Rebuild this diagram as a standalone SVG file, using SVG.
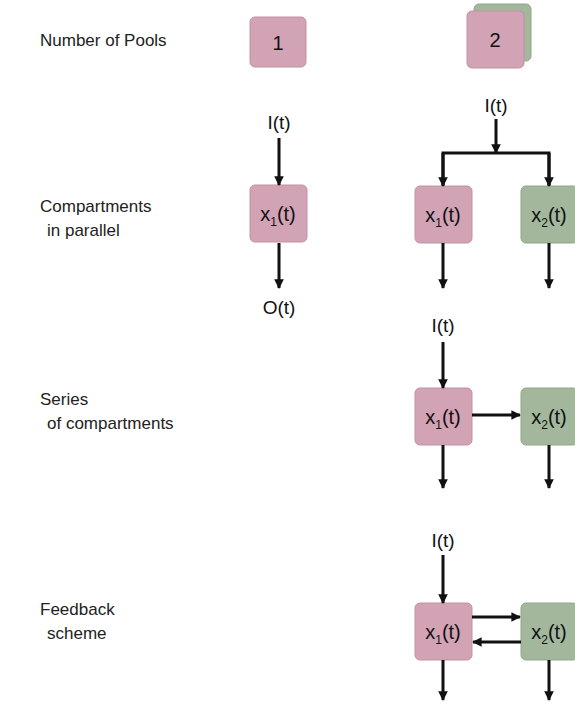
<svg xmlns="http://www.w3.org/2000/svg" width="575" height="705" viewBox="0 0 575 705">
<defs>
<marker id="ah" viewBox="0 0 10 10" refX="9" refY="5" markerWidth="3.2" markerHeight="3.2" orient="auto" markerUnits="strokeWidth">
<path d="M0,0 L10,5 L0,10 z" fill="#111"/>
</marker>
</defs>
<style>
.lbl{font-family:"Liberation Sans",Arial,sans-serif;font-size:17px;fill:#222}
.t{font-family:"Liberation Sans",Arial,sans-serif;font-size:19px;fill:#111;text-anchor:middle}
.bt{font-family:"Liberation Sans",Arial,sans-serif;font-size:20px;fill:#111;text-anchor:middle}
.sub{font-size:12px}
.pink{fill:#D2A2B5;stroke:#C391A6;stroke-width:1}
.green{fill:#A2B79B;stroke:#91A78A;stroke-width:1}
.ln{stroke:#111;stroke-width:3;fill:none}
.ar{stroke:#111;stroke-width:3;fill:none;marker-end:url(#ah)}
</style>
<rect width="575" height="705" fill="#fff"/>
<g id="labels">
<text class="lbl" x="40" y="46">Number of Pools</text>
<text class="lbl" x="40" y="212">Compartments</text>
<text class="lbl" x="47" y="236">in parallel</text>
<text class="lbl" x="40" y="405">Series</text>
<text class="lbl" x="47" y="429">of compartments</text>
<text class="lbl" x="40" y="615">Feedback</text>
<text class="lbl" x="47" y="639">scheme</text>
</g>
<g id="pool1">
<rect class="pink" x="250" y="17" width="56" height="50" rx="5"/>
<text class="bt" x="278" y="50">1</text>
</g>
<g id="pool2">
<rect class="green" x="474" y="4" width="57" height="57" rx="5"/>
<rect class="pink" x="467" y="11" width="57" height="57" rx="5"/>
<text class="bt" x="495" y="47">2</text>
</g>
<g id="p1-x1">
<rect class="pink" x="250" y="185" width="57" height="57" rx="5"/>
<text class="bt" x="278" y="221">x<tspan class="sub" dy="5">1</tspan><tspan dy="-5">(t)</tspan></text>
</g>
<g id="par-x1">
<rect class="pink" x="415" y="186" width="57" height="57" rx="5"/>
<text class="bt" x="443" y="222">x<tspan class="sub" dy="5">1</tspan><tspan dy="-5">(t)</tspan></text>
</g>
<g id="par-x2">
<rect class="green" x="521" y="186" width="57" height="57" rx="5"/>
<text class="bt" x="549" y="222">x<tspan class="sub" dy="5">2</tspan><tspan dy="-5">(t)</tspan></text>
</g>
<g id="ser-x1">
<rect class="pink" x="415" y="388" width="57" height="57" rx="5"/>
<text class="bt" x="443" y="424">x<tspan class="sub" dy="5">1</tspan><tspan dy="-5">(t)</tspan></text>
</g>
<g id="ser-x2">
<rect class="green" x="521" y="388" width="57" height="57" rx="5"/>
<text class="bt" x="549" y="424">x<tspan class="sub" dy="5">2</tspan><tspan dy="-5">(t)</tspan></text>
</g>
<g id="fb-x1">
<rect class="pink" x="415" y="603" width="57" height="57" rx="5"/>
<text class="bt" x="443" y="639">x<tspan class="sub" dy="5">1</tspan><tspan dy="-5">(t)</tspan></text>
</g>
<g id="fb-x2">
<rect class="green" x="521" y="603" width="57" height="57" rx="5"/>
<text class="bt" x="549" y="639">x<tspan class="sub" dy="5">2</tspan><tspan dy="-5">(t)</tspan></text>
</g>
<g id="io-labels">
<text class="t" x="279" y="129">I(t)</text>
<text class="t" x="279" y="314">O(t)</text>
<text class="t" x="496" y="112">I(t)</text>
<text class="t" x="443" y="332">I(t)</text>
<text class="t" x="443" y="547">I(t)</text>
</g>
<g id="connectors">
<line class="ar" x1="279" y1="138" x2="279" y2="185"/>
<line class="ar" x1="279" y1="243" x2="279" y2="288"/>
<line class="ar" x1="496" y1="119" x2="496" y2="153"/>
<path class="ln" d="M443,185 V153 H549 V185"/>
<line class="ar" x1="443" y1="153" x2="443" y2="186"/>
<line class="ar" x1="549" y1="153" x2="549" y2="186"/>
<line class="ar" x1="443" y1="243" x2="443" y2="288"/>
<line class="ar" x1="549" y1="243" x2="549" y2="288"/>
<line class="ar" x1="443" y1="342" x2="443" y2="388"/>
<line class="ar" x1="472" y1="415" x2="520" y2="415"/>
<line class="ar" x1="443" y1="445" x2="443" y2="488"/>
<line class="ar" x1="549" y1="445" x2="549" y2="488"/>
<line class="ar" x1="443" y1="555" x2="443" y2="603"/>
<line class="ar" x1="472" y1="617" x2="520" y2="617"/>
<line class="ar" x1="521" y1="642" x2="473" y2="642"/>
<line class="ar" x1="443" y1="660" x2="443" y2="700"/>
<line class="ar" x1="549" y1="660" x2="549" y2="700"/>
</g>
</svg>
